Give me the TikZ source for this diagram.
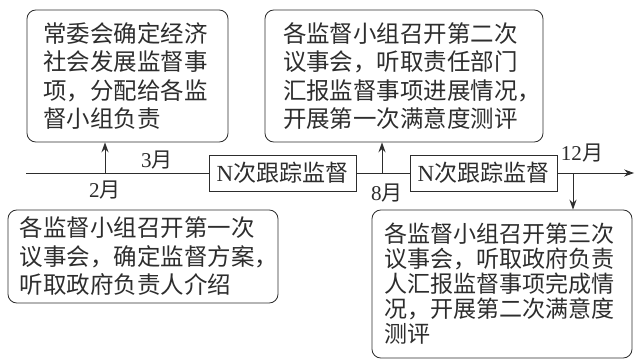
\documentclass[tikz,border=0pt]{standalone}
\usepackage{fontspec}
\setmainfont{Liberation Serif}
\newfontfamily\cjk{Noto Sans CJK SC}
\usepackage{tikz}
\usetikzlibrary{arrows.meta}
\usepackage{xcolor}
\definecolor{ink}{RGB}{45,45,45}

\begin{document}
\begin{tikzpicture}[ink, line width=0.6pt, >={Stealth[length=7pt,width=5pt]},
    note/.style={draw, rounded corners=0.22cm, align=left, inner ysep=0pt,
      font=\cjk\fontsize{16.7pt}{20.3pt}\selectfont},
    track/.style={draw, inner sep=0pt, minimum width=3.675cm, minimum height=0.9cm,
      font=\fontsize{16.4pt}{20pt}\selectfont},
    month/.style={inner sep=0pt, font=\fontsize{15pt}{18pt}\selectfont}]
  \useasboundingbox (0,0) rectangle (15.875,9);
  % the four notes
  \node[note, text width=4.2cm, inner xsep=0.4125cm, minimum height=3.3cm] (1) at (3.1875,7.1)
    {常委会确定经济\\社会发展监督事\\项，分配给各监\\督小组负责};
  \node[note, text width=6.05cm, inner xsep=0.45cm, minimum height=3.3cm] (2) at (10.1,7.1)
    {各监督小组召开第二次\\议事会，听取责任部门\\汇报监督事项进展情况，\\开展第一次满意度测评};
  \node[note, text width=6.15cm, inner xsep=0.3cm, minimum height=2.325cm] (3) at (3.575,2.5875)
    {各监督小组召开第一次\\议事会，确定监督方案，\\听取政府负责人介绍};
  \node[note, text width=5.9cm, inner xsep=0.3cm, minimum height=3.7cm,
      font=\cjk\fontsize{16.4pt}{17.8pt}\selectfont] (4) at (12.55,1.9)
    {各监督小组召开第三次\\议事会，听取政府负责\\人汇报监督事项完成情\\况，开展第二次满意度\\测评};
  % time line
  \coordinate (start) at (0.65,4.675);
  \coordinate (end) at (15.85,4.675);
  \node[track] (n1) at (7.0625,4.675) {N{\cjk 次跟踪监督}};
  \node[track] (n2) at (12.0875,4.675) {N{\cjk 次跟踪监督}};
  \draw (start) -- (n1) -- (n2);
  \draw[->] (n2) -- (end);
  \coordinate (feb) at (2.625,4.675);
  \coordinate (aug) at (9.55,4.675);
  \coordinate (dec) at (14.325,4.675);
  \draw[->] (feb) -- (feb |- 1.south);
  \draw[->] (aug) -- (aug |- 2.south);
  \draw[->] (dec) -- (dec |- 4.north);
  % months
  \node[month] (m2) at (2.625,4.25) {2{\cjk 月}};
  \node[month] (m3) at (3.925,5.0) {3{\cjk 月}};
  \node[month] (m8) at (9.675,4.175) {8{\cjk 月}};
  \node[month] (m12) at (14.55,5.175) {12{\cjk 月}};
\end{tikzpicture}
\end{document}
